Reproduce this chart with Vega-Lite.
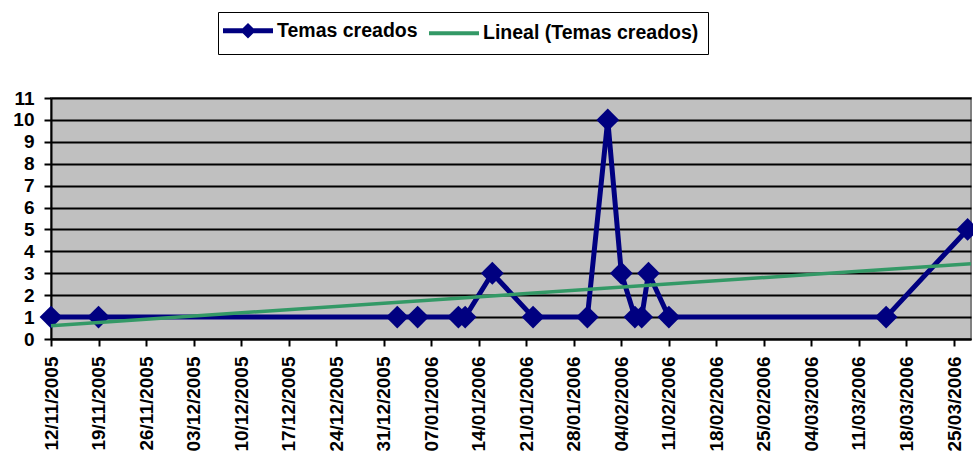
{
  "$schema": "https://vega.github.io/schema/vega-lite/v6.json",
  "autosize": {"type": "none"},
  "width": 920,
  "height": 241,
  "padding": {"left": 51, "top": 98, "right": 2, "bottom": 124},
  "background": "white",
  "config": {
    "font": "Liberation Sans",
    "view": {"fill": "#C0C0C0", "stroke": "#808080", "strokeWidth": 2}
  },
  "data": {
    "values": [
      {"date": "2005/11/12", "value": 1, "series": "Temas creados"},
      {"date": "2005/11/19", "value": 1, "series": "Temas creados"},
      {"date": "2006/01/02", "value": 1, "series": "Temas creados"},
      {"date": "2006/01/05", "value": 1, "series": "Temas creados"},
      {"date": "2006/01/11", "value": 1, "series": "Temas creados"},
      {"date": "2006/01/12", "value": 1, "series": "Temas creados"},
      {"date": "2006/01/16", "value": 3, "series": "Temas creados"},
      {"date": "2006/01/22", "value": 1, "series": "Temas creados"},
      {"date": "2006/01/30", "value": 1, "series": "Temas creados"},
      {"date": "2006/02/02", "value": 10, "series": "Temas creados"},
      {"date": "2006/02/04", "value": 3, "series": "Temas creados"},
      {"date": "2006/02/06", "value": 1, "series": "Temas creados"},
      {"date": "2006/02/07", "value": 1, "series": "Temas creados"},
      {"date": "2006/02/08", "value": 3, "series": "Temas creados"},
      {"date": "2006/02/11", "value": 1, "series": "Temas creados"},
      {"date": "2006/03/15", "value": 1, "series": "Temas creados"},
      {"date": "2006/03/27", "value": 5, "series": "Temas creados"},
      {"date": "2005/11/12", "value": 0.61, "series": "Lineal (Temas creados)"},
      {"date": "2006/03/27 12:00", "value": 3.44, "series": "Lineal (Temas creados)"}
    ]
  },
  "encoding": {
    "x": {
      "field": "date",
      "type": "temporal",
      "scale": {"domain": [{"year": 2005, "month": 11, "date": 12}, {"year": 2006, "month": 3, "date": 27, "hours": 12}], "nice": false},
      "axis": {
        "title": null,
        "format": "%d/%m/%Y",
        "values": [
          {"year": 2005, "month": 11, "date": 12},
          {"year": 2005, "month": 11, "date": 19},
          {"year": 2005, "month": 11, "date": 26},
          {"year": 2005, "month": 12, "date": 3},
          {"year": 2005, "month": 12, "date": 10},
          {"year": 2005, "month": 12, "date": 17},
          {"year": 2005, "month": 12, "date": 24},
          {"year": 2005, "month": 12, "date": 31},
          {"year": 2006, "month": 1, "date": 7},
          {"year": 2006, "month": 1, "date": 14},
          {"year": 2006, "month": 1, "date": 21},
          {"year": 2006, "month": 1, "date": 28},
          {"year": 2006, "month": 2, "date": 4},
          {"year": 2006, "month": 2, "date": 11},
          {"year": 2006, "month": 2, "date": 18},
          {"year": 2006, "month": 2, "date": 25},
          {"year": 2006, "month": 3, "date": 4},
          {"year": 2006, "month": 3, "date": 11},
          {"year": 2006, "month": 3, "date": 18},
          {"year": 2006, "month": 3, "date": 25}
        ],
        "labelAngle": -90,
        "labelAlign": "right",
        "labelBaseline": "middle",
        "labelFont": "Liberation Sans",
        "labelFontWeight": "bold",
        "labelFontSize": 19,
        "labelColor": "black",
        "labelPadding": 10,
        "labelOverlap": false,
        "labelFlush": false,
        "grid": false,
        "domainColor": "black",
        "domainWidth": 2,
        "tickColor": "black",
        "tickWidth": 2,
        "tickSize": 7
      }
    },
    "y": {
      "field": "value",
      "type": "quantitative",
      "scale": {"domain": [0, 11], "nice": false},
      "axis": {
        "title": null,
        "values": [0, 1, 2, 3, 4, 5, 6, 7, 8, 9, 10, 11],
        "labelFont": "Liberation Sans",
        "labelFontWeight": "bold",
        "labelFontSize": 19,
        "labelColor": "black",
        "labelPadding": 10,
        "labelFlush": false,
        "grid": true,
        "gridColor": "black",
        "gridWidth": 2,
        "gridOpacity": 1,
        "domainColor": "black",
        "domainWidth": 2,
        "tickColor": "black",
        "tickWidth": 2,
        "tickSize": 7
      }
    }
  },
  "layer": [
    {
      "transform": [{"filter": "datum.series === 'Temas creados'"}],
      "mark": {"type": "line", "strokeWidth": 5, "strokeJoin": "miter"},
      "encoding": {
        "color": {
          "field": "series",
          "type": "nominal",
          "scale": {"domain": ["Temas creados", "Lineal (Temas creados)"], "range": ["#000080", "#339966"]},
          "legend": {
            "title": null,
            "orient": "none",
            "legendX": 167,
            "legendY": -86,
            "direction": "horizontal",
            "strokeColor": "black",
            "fillColor": "white",
            "padding": 9,
            "labelFont": "Liberation Sans",
            "labelFontWeight": "bold",
            "labelFontSize": 19.5,
            "labelColor": "black",
            "labelLimit": 500,
            "labelOffset": 19,
            "columnPadding": 3,
            "symbolSize": 2500,
            "symbolStrokeWidth": 4,
            "symbolType": "M-1,0H1",
            "encode": {
              "symbols": {
                "update": {
                  "xc": {"value": 21},
                  "shape": {"signal": "datum.value === 'Temas creados' ? 'M-1,0H1M0,-0.17L0.17,0L0,0.17L-0.17,0Z' : 'M-1,0H1'"},
                  "fill": {"signal": "datum.value === 'Temas creados' ? '#000080' : 'transparent'"},
                  "fillOpacity": {"value": 1},
                  "strokeWidth": {"signal": "datum.value === 'Temas creados' ? 5 : 4"}
                }
              },
              "labels": {
                "update": {
                  "x": {"value": 50}
                }
              }
            }
          }
        }
      }
    },
    {
      "transform": [{"filter": "datum.series === 'Temas creados'"}],
      "mark": {"type": "point", "shape": "diamond", "filled": true, "size": 520, "color": "#000080", "opacity": 1}
    },
    {
      "transform": [{"filter": "datum.series !== 'Temas creados'"}],
      "mark": {"type": "line", "strokeWidth": 3.5},
      "encoding": {
        "color": {"field": "series", "type": "nominal"}
      }
    }
  ]
}
